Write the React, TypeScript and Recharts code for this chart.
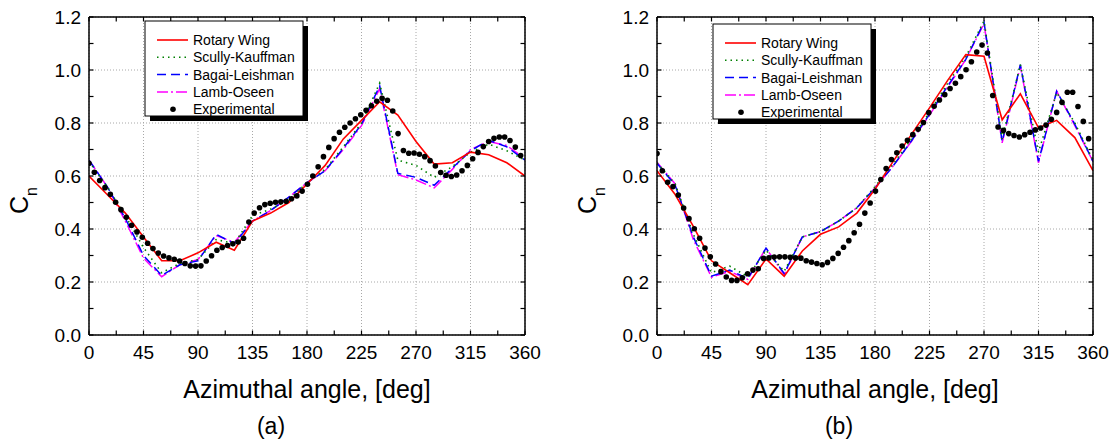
import React from 'react';
import { ComposedChart, Line, XAxis, YAxis, CartesianGrid } from 'recharts';

const FONT = '"Liberation Sans", Arial, Helvetica, sans-serif';

// ---- categories / ticks ----
const MODEL_ANGLES = [0, 15, 30, 45, 60, 75, 90, 105, 120, 135, 150, 165, 180, 195, 210, 225, 240, 255, 270, 285, 300, 315, 330, 345, 360];
const EXP_ANGLES = [0, 4.4, 8.8, 13.2, 17.6, 22, 26.4, 30.8, 35.2, 39.6, 44, 48.4, 52.8, 57.2, 61.6, 66, 70.4, 74.8, 79.2, 83.6, 88, 92.4, 96.8, 101.2, 105.6, 110, 114.4, 118.8, 123.2, 127.6, 132, 136.4, 140.8, 145.2, 149.6, 154, 158.4, 162.8, 167.2, 171.6, 176, 180.4, 184.8, 189.2, 193.6, 198, 202.4, 206.8, 211.2, 215.6, 220, 224.4, 228.8, 233.2, 237.6, 242, 246.4, 250.8, 255.2, 259.6, 264, 268.4, 272.8, 277.2, 281.6, 286, 290.4, 294.8, 299.2, 303.6, 308, 312.4, 316.8, 321.2, 325.6, 330, 334.4, 338.8, 343.2, 347.6, 352, 356.4];
const X_TICKS = [0, 22.5, 45, 67.5, 90, 112.5, 135, 157.5, 180, 202.5, 225, 247.5, 270, 292.5, 315, 337.5, 360];
const X_LABELS = [0, 45, 90, 135, 180, 225, 270, 315, 360];
const Y_TICKS = [0, 0.1, 0.2, 0.3, 0.4, 0.5, 0.6, 0.7, 0.8, 0.9, 1.0, 1.1, 1.2];
const Y_LABELS = [0, 0.2, 0.4, 0.6, 0.8, 1.0, 1.2];

// ---- panel (a) ----
const A_ROTARY = [0.60, 0.53, 0.46, 0.37, 0.28, 0.28, 0.31, 0.35, 0.32, 0.43, 0.46, 0.50, 0.57, 0.64, 0.74, 0.81, 0.88, 0.83, 0.73, 0.645, 0.65, 0.69, 0.68, 0.65, 0.60];
const A_SCULLY = [0.655, 0.56, 0.45, 0.33, 0.235, 0.27, 0.285, 0.36, 0.345, 0.45, 0.475, 0.51, 0.575, 0.625, 0.71, 0.80, 0.95, 0.66, 0.64, 0.595, 0.635, 0.69, 0.72, 0.695, 0.66];
const A_BAGAI = [0.66, 0.56, 0.44, 0.30, 0.225, 0.265, 0.28, 0.38, 0.345, 0.43, 0.47, 0.52, 0.575, 0.62, 0.705, 0.795, 0.94, 0.61, 0.595, 0.565, 0.63, 0.695, 0.735, 0.71, 0.66];
const A_LAMB = [0.66, 0.56, 0.43, 0.29, 0.22, 0.265, 0.285, 0.375, 0.35, 0.43, 0.47, 0.52, 0.575, 0.62, 0.70, 0.79, 0.93, 0.605, 0.585, 0.555, 0.625, 0.70, 0.73, 0.715, 0.665];
const A_EXP = [0.648, 0.614, 0.583, 0.556, 0.531, 0.501, 0.473, 0.444, 0.414, 0.389,
  0.369, 0.346, 0.326, 0.309, 0.298, 0.291, 0.286, 0.279, 0.27, 0.261,
  0.26, 0.261, 0.279, 0.299, 0.32, 0.33, 0.338, 0.344, 0.351, 0.365,
  0.426, 0.46, 0.48, 0.492, 0.497, 0.501, 0.503, 0.505, 0.514, 0.525,
  0.543, 0.569, 0.6, 0.635, 0.673, 0.708, 0.741, 0.765, 0.784, 0.8,
  0.816, 0.831, 0.848, 0.865, 0.882, 0.893, 0.886, 0.845, 0.76, 0.696,
  0.686, 0.687, 0.682, 0.673, 0.658, 0.638, 0.613, 0.603, 0.598, 0.604,
  0.62, 0.64, 0.665, 0.689, 0.711, 0.73, 0.742, 0.747, 0.747, 0.734,
  0.709, 0.677];

// ---- panel (b) ----
const B_ROTARY = [0.62, 0.53, 0.41, 0.28, 0.235, 0.19, 0.287, 0.222, 0.317, 0.38, 0.408, 0.46, 0.55, 0.655, 0.756, 0.857, 0.961, 1.058, 1.052, 0.812, 0.91, 0.782, 0.81, 0.745, 0.62];
const B_SCULLY = [0.65, 0.57, 0.38, 0.235, 0.26, 0.22, 0.32, 0.24, 0.37, 0.39, 0.43, 0.48, 0.56, 0.645, 0.74, 0.84, 0.95, 1.05, 1.185, 0.74, 1.02, 0.69, 0.915, 0.80, 0.66];
const B_BAGAI = [0.648, 0.565, 0.37, 0.222, 0.245, 0.213, 0.328, 0.232, 0.37, 0.39, 0.43, 0.48, 0.555, 0.638, 0.732, 0.833, 0.94, 1.04, 1.18, 0.73, 1.02, 0.655, 0.92, 0.795, 0.655];
const B_LAMB = [0.652, 0.57, 0.36, 0.218, 0.24, 0.21, 0.328, 0.228, 0.37, 0.39, 0.43, 0.48, 0.555, 0.638, 0.73, 0.83, 0.935, 1.04, 1.175, 0.725, 1.015, 0.65, 0.92, 0.79, 0.655];
const B_EXP = [0.685, 0.62, 0.576, 0.56, 0.528, 0.479, 0.439, 0.401, 0.365, 0.328,
  0.295, 0.268, 0.239, 0.219, 0.206, 0.206, 0.216, 0.231, 0.245, 0.25,
  0.289, 0.291, 0.294, 0.295, 0.295, 0.293, 0.291, 0.29, 0.28, 0.275,
  0.27, 0.265, 0.274, 0.289, 0.308, 0.331, 0.356, 0.386, 0.418, 0.46,
  0.498, 0.543, 0.587, 0.628, 0.662, 0.688, 0.713, 0.735, 0.756, 0.776,
  0.802, 0.839, 0.863, 0.887, 0.907, 0.93, 0.95, 0.975, 1.001, 1.031,
  1.068, 1.094, 1.064, 0.904, 0.785, 0.772, 0.76, 0.753, 0.747, 0.756,
  0.765, 0.774, 0.781, 0.792, 0.814, 0.84, 0.878, 0.916, 0.916, 0.862,
  0.806, 0.741];

const SERIES_NAMES = ['Rotary Wing', 'Scully-Kauffman', 'Bagai-Leishman', 'Lamb-Oseen', 'Experimental'];

const STYLES: Record<string, { stroke: string; dash?: string; width: number }> = {
  'Rotary Wing': { stroke: '#ff0000', width: 1.6 },
  'Scully-Kauffman': { stroke: '#008000', dash: '1.5 4', width: 1.6 },
  'Bagai-Leishman': { stroke: '#0000ff', dash: '9 5', width: 1.5 },
  'Lamb-Oseen': { stroke: '#ff00ff', dash: '11 3 2 3', width: 1.5 },
};

const pts = (angles: number[], values: number[]) => angles.map((a, i) => ({ a, v: values[i] }));

const isLabelX = (v: number) => X_LABELS.indexOf(v) >= 0;
const isLabelY = (v: number) => Y_LABELS.some((l) => Math.abs(l - v) < 1e-6);

const BottomTick = (props: any) => {
  const { x, y, payload } = props;
  const v = payload.value;
  return (
    <g>
      <line x1={x} x2={x} y1={y} y2={y - 4.5} stroke="#000" strokeWidth={1.2} />
      {isLabelX(v) && (
        <text x={x} y={y + 24} textAnchor="middle" fontSize={19} fontFamily={FONT} fill="#000">{v}</text>
      )}
    </g>
  );
};
const TopTick = (props: any) => {
  const { x, y } = props;
  return <line x1={x} x2={x} y1={y} y2={y + 4.5} stroke="#000" strokeWidth={1.2} />;
};
const LeftTick = (props: any) => {
  const { x, y, payload } = props;
  const v = payload.value;
  return (
    <g>
      <line x1={x} x2={x + 4.5} y1={y} y2={y} stroke="#000" strokeWidth={1.2} />
      {isLabelY(v) && (
        <text x={x - 8} y={y + 6.8} textAnchor="end" fontSize={19} fontFamily={FONT} fill="#000">{v.toFixed(1)}</text>
      )}
    </g>
  );
};
const RightTick = (props: any) => {
  const { x, y } = props;
  return <line x1={x} x2={x - 4.5} y1={y} y2={y} stroke="#000" strokeWidth={1.2} />;
};

const AXIS_LINE = { stroke: '#000', strokeWidth: 1.5 };

function Panel({ left, width, marginRight, rotary, scully, bagai, lamb, exp }: any) {
  return (
    <div style={{ position: 'absolute', left, top: 0 }}>
      <ComposedChart width={width} height={441} margin={{ top: 12, right: marginRight, bottom: 76, left: 0 }}>
        <CartesianGrid xAxisId="b" yAxisId="l" stroke="#a8a8a8" strokeDasharray="1 2" strokeWidth={1}
          verticalValues={X_LABELS} horizontalValues={Y_LABELS} />
        <XAxis xAxisId="b" type="number" dataKey="a" domain={[0, 360]} ticks={X_TICKS} interval={0}
          tick={<BottomTick />} tickSize={0} tickMargin={0} tickLine={false} axisLine={AXIS_LINE} height={30} allowDataOverflow />
        <XAxis xAxisId="t" orientation="top" type="number" dataKey="a" domain={[0, 360]} ticks={X_TICKS} interval={0}
          tick={<TopTick />} tickSize={0} tickMargin={0} tickLine={false} axisLine={AXIS_LINE} height={5} allowDataOverflow />
        <YAxis yAxisId="l" type="number" domain={[0, 1.2]} ticks={Y_TICKS} interval={0}
          tick={<LeftTick />} tickSize={0} tickMargin={0} tickLine={false} axisLine={AXIS_LINE} width={89} allowDataOverflow />
        <YAxis yAxisId="r" orientation="right" type="number" domain={[0, 1.2]} ticks={Y_TICKS} interval={0}
          tick={<RightTick />} tickSize={0} tickMargin={0} tickLine={false} axisLine={AXIS_LINE} width={10} allowDataOverflow />
        <Line xAxisId="b" yAxisId="l" data={pts(MODEL_ANGLES, lamb)} dataKey="v" type="linear"
          stroke={STYLES['Lamb-Oseen'].stroke} strokeDasharray={STYLES['Lamb-Oseen'].dash} strokeWidth={STYLES['Lamb-Oseen'].width}
          dot={false} activeDot={false} isAnimationActive={false} />
        <Line xAxisId="b" yAxisId="l" data={pts(MODEL_ANGLES, bagai)} dataKey="v" type="linear"
          stroke={STYLES['Bagai-Leishman'].stroke} strokeDasharray={STYLES['Bagai-Leishman'].dash} strokeWidth={STYLES['Bagai-Leishman'].width}
          dot={false} activeDot={false} isAnimationActive={false} />
        <Line xAxisId="b" yAxisId="l" data={pts(MODEL_ANGLES, scully)} dataKey="v" type="linear"
          stroke={STYLES['Scully-Kauffman'].stroke} strokeDasharray={STYLES['Scully-Kauffman'].dash} strokeWidth={STYLES['Scully-Kauffman'].width}
          dot={false} activeDot={false} isAnimationActive={false} />
        <Line xAxisId="b" yAxisId="l" data={pts(MODEL_ANGLES, rotary)} dataKey="v" type="linear"
          stroke={STYLES['Rotary Wing'].stroke} strokeWidth={STYLES['Rotary Wing'].width}
          dot={false} activeDot={false} isAnimationActive={false} />
        <Line xAxisId="b" yAxisId="l" data={pts(EXP_ANGLES, exp)} dataKey="v" type="linear"
          stroke="none" strokeWidth={0} dot={{ r: 2.8, fill: '#000', stroke: 'none' }} activeDot={false} isAnimationActive={false} />
      </ComposedChart>
    </div>
  );
}

function LegendBox({ x, y }: { x: number; y: number }) {
  const w = 158;
  const h = 95;
  return (
    <g>
      <rect x={x + 5} y={y + 5} width={w} height={h} fill="#000" />
      <rect x={x} y={y} width={w} height={h} fill="#fff" stroke="#000" strokeWidth={1} />
      {SERIES_NAMES.map((name, i) => {
        const ry = y + 19 + i * 17.3;
        const st = STYLES[name];
        return (
          <g key={name}>
            {st ? (
              <line x1={x + 12} x2={x + 43} y1={ry} y2={ry} stroke={st.stroke} strokeWidth={st.width} strokeDasharray={st.dash} />
            ) : (
              <circle cx={x + 28} cy={ry} r={2.8} fill="#000" />
            )}
            <text x={x + 48} y={ry + 5} fontSize={14} fontFamily={FONT} fill="#000">{name}</text>
          </g>
        );
      })}
    </g>
  );
}

function Overlay() {
  return (
    <svg width={1114} height={441} style={{ position: 'absolute', left: 0, top: 0, pointerEvents: 'none' }}>
      <LegendBox x={145} y={21} />
      <LegendBox x={713} y={24} />
      <text x={307} y={398} textAnchor="middle" fontSize={25} fontFamily={FONT} fill="#000">Azimuthal angle, [deg]</text>
      <text x={875} y={398} textAnchor="middle" fontSize={25} fontFamily={FONT} fill="#000">Azimuthal angle, [deg]</text>
      <text x={271} y={434} textAnchor="middle" fontSize={23} fontFamily={FONT} fill="#000">(a)</text>
      <text x={839} y={434} textAnchor="middle" fontSize={23} fontFamily={FONT} fill="#000">(b)</text>
      <text transform="translate(28,214) rotate(-90)" fontSize={25} fontFamily={FONT} fill="#000">
        C<tspan fontSize={16} dy={9}>n</tspan>
      </text>
      <text transform="translate(596,214) rotate(-90)" fontSize={25} fontFamily={FONT} fill="#000">
        C<tspan fontSize={16} dy={9}>n</tspan>
      </text>
    </svg>
  );
}

export default function App() {
  return (
    <div style={{ position: 'absolute', left: 0, top: 0, width: 1114, height: 441, background: '#fff', fontFamily: FONT }}>
      <Panel left={0} width={557} marginRight={22} rotary={A_ROTARY} scully={A_SCULLY} bagai={A_BAGAI} lamb={A_LAMB} exp={A_EXP} />
      <Panel left={568} width={546} marginRight={11} rotary={B_ROTARY} scully={B_SCULLY} bagai={B_BAGAI} lamb={B_LAMB} exp={B_EXP} />
      <Overlay />
    </div>
  );
}
